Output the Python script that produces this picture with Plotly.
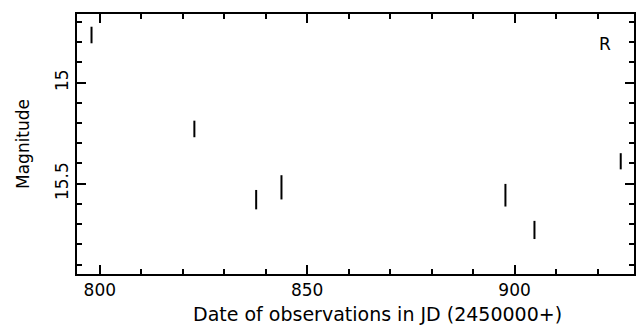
import plotly.graph_objects as go

jd = [798.0, 822.8, 837.7, 843.8, 897.8, 904.8, 925.6]
mag = [14.764, 15.229, 15.579, 15.518, 15.557, 15.729, 15.389]
err = [0.041, 0.041, 0.048, 0.060, 0.056, 0.045, 0.040]
band_label = "R"
x_title = "Date of observations in JD (2450000+)"
y_title = "Magnitude"

fig = go.Figure()
fig.add_trace(go.Scatter(
    x=jd, y=mag, mode="markers",
    marker=dict(size=1, color="black", opacity=0),
    error_y=dict(type="data", array=err, visible=True, color="black",
                 thickness=2, width=0),
    showlegend=False, hoverinfo="skip",
))

xtfont = dict(family="DejaVu Sans", size=19, color="black")
ytfont = dict(family="DejaVu Sans", size=17, color="black")
kfont = dict(family="DejaVu Sans", size=17, color="black")
fig.add_annotation(x=921.8, y=14.81, text=band_label, showarrow=False,
                   font=kfont, xanchor="center", yanchor="middle")
fig.add_annotation(xref="paper", yref="paper", x=0.5394, y=0, yshift=-40,
                   text=x_title, showarrow=False, font=xtfont,
                   xanchor="center", yanchor="middle")
fig.add_annotation(xref="paper", yref="paper", x=0, xshift=-54, y=0.5,
                   text=y_title, textangle=-90, showarrow=False, font=ytfont,
                   xanchor="center", yanchor="middle")

axis_common = dict(showline=True, linecolor="black", linewidth=2, mirror="ticks",
                   ticks="inside", tickcolor="black", tickwidth=2, ticklen=9,
                   showgrid=False, zeroline=False, tickfont=kfont, automargin=False)
fig.update_xaxes(range=[794.5, 928.8], tick0=800, dtick=50,
                 minor=dict(dtick=10, ticks="inside", ticklen=5, tickwidth=2, tickcolor="black"),
                 **axis_common)
fig.update_yaxes(range=[15.947, 14.66], tick0=15, dtick=0.5, tickangle=-90,
                 minor=dict(dtick=0.1, ticks="inside", ticklen=5, tickwidth=2, tickcolor="black"),
                 **axis_common)
fig.update_layout(width=637, height=326, margin=dict(l=77, r=3, t=14, b=52),
                  plot_bgcolor="white", paper_bgcolor="white", font=kfont)
fig.write_html("out.html", config={"displayModeBar": False},
               post_script="document.body.style.margin='0';")
